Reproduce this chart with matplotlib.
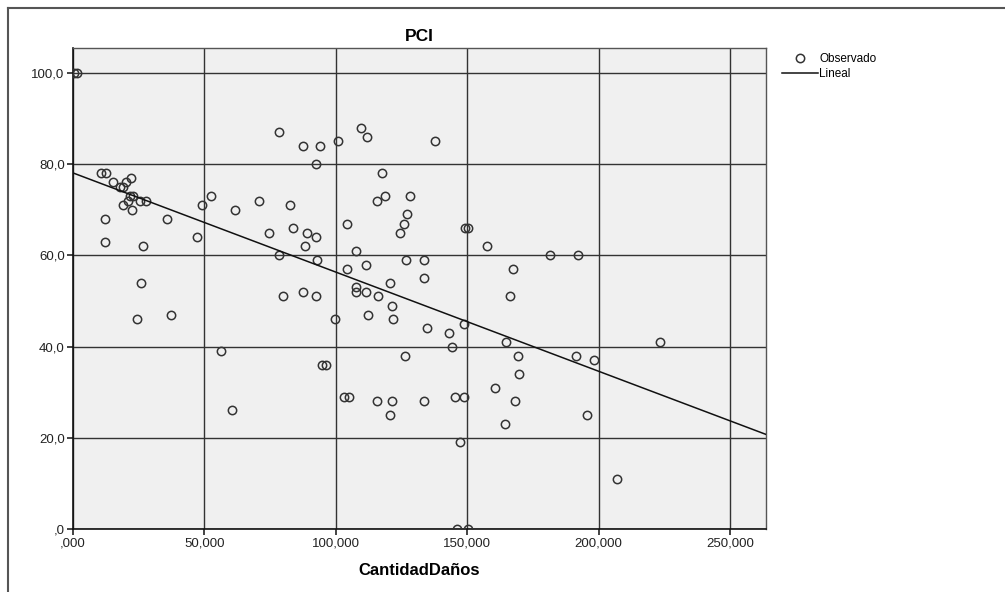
import matplotlib
matplotlib.use("Agg")
import matplotlib.pyplot as plt
from matplotlib.lines import Line2D
from matplotlib.ticker import FuncFormatter
import numpy as np

plt.rcParams['font.family'] = ['Liberation Sans', 'DejaVu Sans']

# ---- data ----
cantidad_danos = [
    0.3, 1.5, 10.5, 12.4, 22.1, 15.4, 20.1, 17.9, 19.2, 21.7, 22.7, 21.0, 25.5, 27.8,
    18.9, 22.3, 12.3, 35.7, 12.2, 26.5, 25.8, 24.2, 37.2, 47.1, 49.0, 52.6, 61.7, 56.2,
    60.5, 70.7, 74.6, 78.4, 78.4, 80.0, 82.6, 83.9, 87.5, 93.8, 92.3, 89.2, 92.5, 88.3,
    92.8, 87.5, 92.3, 94.8, 96.3, 99.8, 100.8, 109.6, 111.8, 104.3, 104.2, 107.5, 107.8,
    107.8, 111.6, 111.6, 112.1, 103.3, 105.2, 115.6, 116.0, 117.7, 118.9, 115.6, 120.5,
    121.3, 121.7, 121.2, 120.5, 124.5, 125.8, 127.0, 128.3, 126.6, 126.3, 133.7, 133.7,
    134.7, 133.4, 137.6, 142.9, 144.4, 145.4, 148.9, 148.6, 147.4, 146.1, 150.3, 149.3,
    150.3, 157.7, 160.6, 164.5, 164.9, 167.3, 166.4, 168.2, 169.3, 169.7, 181.6, 192.3,
    191.5, 195.4, 198.1, 207.0, 223.5,
]
pci = [
    100, 100, 78, 78, 77, 76, 76, 75, 75, 73, 73, 72, 72, 72,
    71, 70, 68, 68, 63, 62, 54, 46, 47, 64, 71, 73, 70, 39,
    26, 72, 65, 87, 60, 51, 71, 66, 84, 84, 80, 65, 64, 62,
    59, 52, 51, 36, 36, 46, 85, 88, 86, 67, 57, 61, 53,
    52, 52, 58, 47, 29, 29, 28, 51, 78, 73, 72, 54,
    49, 46, 28, 25, 65, 67, 69, 73, 59, 38, 59, 55,
    44, 28, 85, 43, 40, 29, 29, 45, 19, 0, 0, 66,
    66, 62, 31, 23, 41, 57, 51, 28, 38, 34, 60, 60,
    38, 25, 37, 11, 41,
]
# linear fit
fit_intercept = 78.1
fit_slope = -0.2175

x_ticks = [0, 50, 100, 150, 200, 250]
y_ticks = [0, 20, 40, 60, 80, 100]
x_limits = (0, 263.7)
y_limits = (0, 105.5)

title = "PCI"
x_label = "CantidadDaños"
legend_labels = ["Observado", "Lineal"]

# ---- figure ----
W, H = 1005, 592
fig = plt.figure(figsize=(W / 100, H / 100), dpi=100)
fig.patch.set_facecolor("white")

# outer frame (top and left edges visible)
fig.add_artist(Line2D([8 / W, 8 / W], [0, 1 - 8 / H], transform=fig.transFigure,
                      color="#555555", lw=1.5))
fig.add_artist(Line2D([8 / W, 1], [1 - 8 / H, 1 - 8 / H], transform=fig.transFigure,
                      color="#555555", lw=1.5))

left, right, top, bottom = 73, 766, 48, 529
ax = fig.add_axes([left / W, 1 - bottom / H, (right - left) / W, (bottom - top) / H])
ax.set_facecolor("#F0F0F0")

ax.set_xlim(*x_limits)
ax.set_ylim(*y_limits)
ax.set_xticks(x_ticks)
ax.set_yticks(y_ticks)


def fmt_x(v, pos):
    s = f"{v:.3f}".replace(".", ",")
    return s[1:] if s.startswith("0") else s


def fmt_y(v, pos):
    s = f"{v:.1f}".replace(".", ",")
    return s[1:] if s.startswith("0") else s


ax.xaxis.set_major_formatter(FuncFormatter(fmt_x))
ax.yaxis.set_major_formatter(FuncFormatter(fmt_y))

ax.grid(True, color="#333333", lw=1.0, zorder=1)
ax.set_axisbelow(True)
for side in ["left", "bottom"]:
    ax.spines[side].set_color("#111111")
    ax.spines[side].set_linewidth(1.2)
for side in ["top", "right"]:
    ax.spines[side].set_color("#555555")
    ax.spines[side].set_linewidth(1.0)

ax.tick_params(axis="both", direction="out", length=4, width=1.1, color="#111111",
               labelsize=9.5, labelcolor="#222222", pad=2)

sc, = ax.plot(cantidad_danos, pci, linestyle="none", marker="o", markersize=6.0,
              markerfacecolor="none", markeredgecolor="#333333", markeredgewidth=1.1,
              zorder=3, label=legend_labels[0])

xl = np.array(x_limits)
ln, = ax.plot(xl, fit_intercept + fit_slope * xl, color="#111111", lw=1.1, zorder=4,
              label=legend_labels[1])

ax.set_title(title, fontsize=12.5, fontweight="bold", pad=5)
ax.set_xlabel(x_label, fontsize=12, fontweight="bold", labelpad=10)

fig.legend(handles=[sc, ln], labels=legend_labels, loc="upper left",
           bbox_to_anchor=(774 / W, 1 - 45 / H), frameon=False, fontsize=8.5,
           handlelength=3.0, handletextpad=0.15, labelspacing=0.25, borderpad=0.2)

fig.savefig("out.png", dpi=100, facecolor="white")
